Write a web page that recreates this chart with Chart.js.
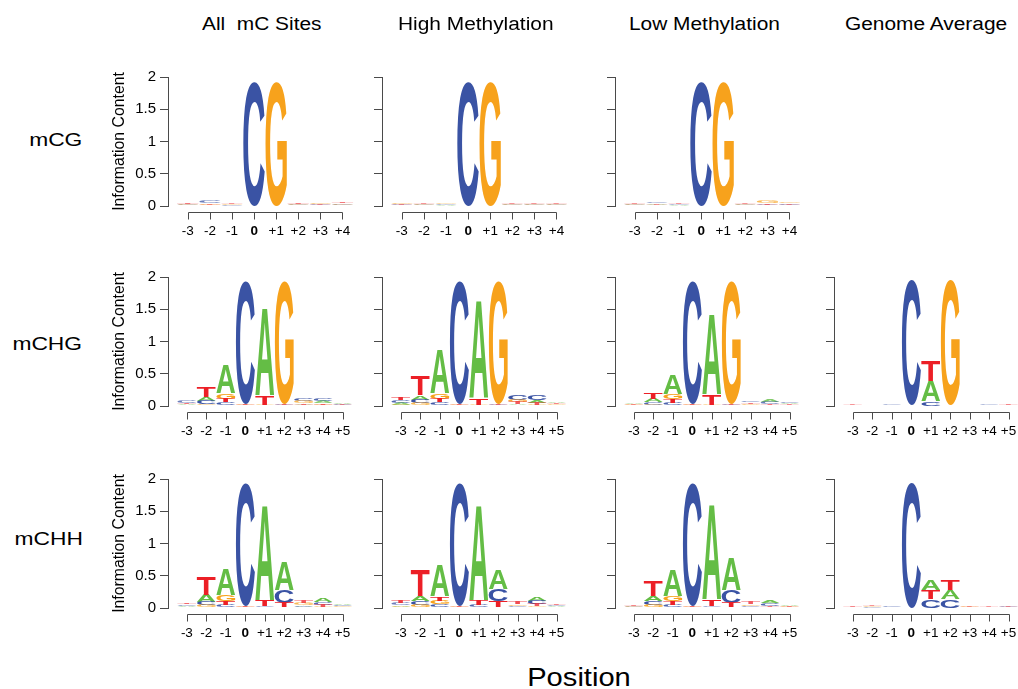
<!DOCTYPE html>
<html>
<head>
<meta charset="utf-8">
<script src="https://cdn.jsdelivr.net/npm/chart.js@4.4.0/dist/chart.umd.min.js"></script>
<style>
  html, body { margin: 0; padding: 0; background: #fff; }
  body { width: 1018px; height: 689px; position: relative; overflow: hidden;
         font-family: "Liberation Sans", Arial, Helvetica, sans-serif; color: #000; }
  canvas { position: absolute; }
  .lbl { position: absolute; white-space: pre; line-height: 1; }
</style>
</head>
<body>
<div id="wrap"></div>
<script>
// ---- positions and tick labels ----
const POS_CG = [-3, -2, -1, 0, 1, 2, 3, 4];
const POS_CH = [-3, -2, -1, 0, 1, 2, 3, 4, 5];
const TICKS_CG = ['-3', '-2', '-1', '0', '+1', '+2', '+3', '+4'];
const TICKS_CH = ['-3', '-2', '-1', '0', '+1', '+2', '+3', '+4', '+5'];
const Y_TICKS = ['0', '0.5', '1', '1.5', '2'];

const COLUMN_TITLES = ['All  mC Sites', 'High Methylation', 'Low Methylation', 'Genome Average'];
const ROW_TITLES = ['mCG', 'mCHG', 'mCHH'];
const Y_TITLE = 'Information Content';
const X_TITLE = 'Position';

// ---- information content (bits) per base and position ----
// mCG context
const mCG_all_A = [0.01, 0.01, 0.005, 0.003, 0.003, 0.01, 0.01, 0.01];
const mCG_all_C = [0.01, 0.03, 0.01, 1.92, 0.003, 0.01, 0.01, 0.02];
const mCG_all_G = [0.01, 0.02, 0.01, 0.003, 1.92, 0.01, 0.02, 0.01];
const mCG_all_T = [0.02, 0.01, 0.01, 0.003, 0.003, 0.02, 0.01, 0.02];

const mCG_high_A = [0.01, 0.01, 0.01, 0.003, 0.003, 0.01, 0.01, 0.01];
const mCG_high_C = [0.01, 0.01, 0.01, 1.92, 0.003, 0.01, 0.01, 0.01];
const mCG_high_G = [0.02, 0.01, 0.01, 0.003, 1.92, 0.01, 0.01, 0.01];
const mCG_high_T = [0.01, 0.01, 0.005, 0.003, 0.003, 0.01, 0.01, 0.01];

const mCG_low_A = [0.01, 0.02, 0.01, 0.003, 0.003, 0.01, 0.01, 0.01];
const mCG_low_C = [0.01, 0.02, 0.01, 1.92, 0.003, 0.01, 0.01, 0.02];
const mCG_low_G = [0.01, 0.01, 0.005, 0.003, 1.92, 0.01, 0.03, 0.02];
const mCG_low_T = [0.01, 0.01, 0.01, 0.003, 0.003, 0.01, 0.02, 0.01];

// mCHG context
const mCHG_all_A = [0.02, 0.065, 0.43, 0.01, 1.33, 0.01, 0.02, 0.03, 0.025];
const mCHG_all_C = [0.03, 0.05, 0.055, 1.90, 0.01, 0.01, 0.045, 0.04, 0.015];
const mCHG_all_G = [0.01, 0.03, 0.08, 0.01, 0.01, 1.89, 0.03, 0.02, 0.01];
const mCHG_all_T = [0.02, 0.16, 0.06, 0.02, 0.14, 0.02, 0.025, 0.025, 0.01];

const mCHG_high_A = [0.03, 0.065, 0.68, 0.01, 1.51, 0.01, 0.025, 0.045, 0.02];
const mCHG_high_C = [0.04, 0.06, 0.055, 1.90, 0.01, 0.01, 0.07, 0.07, 0.01];
const mCHG_high_G = [0.02, 0.04, 0.08, 0.01, 0.01, 1.90, 0.04, 0.02, 0.015];
const mCHG_high_T = [0.045, 0.30, 0.06, 0.02, 0.09, 0.02, 0.03, 0.03, 0.015];

const mCHG_low_A = [0.015, 0.05, 0.29, 0.01, 1.23, 0.01, 0.015, 0.035, 0.02];
const mCHG_low_C = [0.01, 0.04, 0.05, 1.90, 0.01, 0.01, 0.025, 0.03, 0.02];
const mCHG_low_G = [0.01, 0.02, 0.08, 0.01, 0.01, 1.90, 0.02, 0.015, 0.015];
const mCHG_low_T = [0.01, 0.09, 0.055, 0.02, 0.16, 0.02, 0.02, 0.02, 0.015];

const mCHG_gen_A = [0.005, 0.005, 0.005, 0.005, 0.31, 0.005, 0.005, 0.005, 0.005];
const mCHG_gen_C = [0.005, 0.005, 0.01, 1.93, 0.065, 0.005, 0.005, 0.01, 0.005];
const mCHG_gen_G = [0.005, 0.005, 0.005, 0.005, 0.005, 1.93, 0.005, 0.005, 0.005];
const mCHG_gen_T = [0.01, 0.005, 0.005, 0.005, 0.32, 0.005, 0.005, 0.005, 0.015];

// mCHH context
const mCHH_all_A = [0.02, 0.11, 0.40, 0.01, 1.45, 0.43, 0.02, 0.05, 0.025];
const mCHH_all_C = [0.02, 0.05, 0.05, 1.90, 0.02, 0.20, 0.02, 0.04, 0.02];
const mCHH_all_G = [0.015, 0.04, 0.09, 0.01, 0.01, 0.01, 0.03, 0.02, 0.015];
const mCHH_all_T = [0.025, 0.28, 0.065, 0.02, 0.09, 0.07, 0.03, 0.03, 0.01];

const mCHH_high_A = [0.025, 0.07, 0.47, 0.01, 1.47, 0.30, 0.015, 0.06, 0.015];
const mCHH_high_C = [0.03, 0.06, 0.055, 1.90, 0.04, 0.19, 0.02, 0.05, 0.015];
const mCHH_high_G = [0.02, 0.05, 0.06, 0.01, 0.01, 0.01, 0.025, 0.025, 0.01];
const mCHH_high_T = [0.04, 0.39, 0.065, 0.02, 0.07, 0.09, 0.035, 0.03, 0.015];

const mCHH_low_A = [0.01, 0.07, 0.39, 0.01, 1.46, 0.50, 0.015, 0.045, 0.02];
const mCHH_low_C = [0.01, 0.06, 0.05, 1.90, 0.02, 0.20, 0.02, 0.04, 0.01];
const mCHH_low_G = [0.01, 0.05, 0.07, 0.01, 0.01, 0.01, 0.025, 0.015, 0.01];
const mCHH_low_T = [0.015, 0.23, 0.06, 0.02, 0.10, 0.07, 0.03, 0.02, 0.015];

const mCHH_gen_A = [0.005, 0.005, 0.005, 0.003, 0.15, 0.145, 0.005, 0.005, 0.005];
const mCHH_gen_C = [0.005, 0.01, 0.02, 1.93, 0.13, 0.13, 0.005, 0.005, 0.01];
const mCHH_gen_G = [0.005, 0.01, 0.005, 0.003, 0.003, 0.005, 0.01, 0.005, 0.005];
const mCHH_gen_T = [0.015, 0.01, 0.005, 0.003, 0.14, 0.155, 0.01, 0.01, 0.01];

// ---- styling ----
const FONT = '"Liberation Sans", Arial, Helvetica, sans-serif';
const BASES = ['A', 'C', 'G', 'T'];
const BASE_COLORS = { A: '#64bd45', C: '#3a53a4', G: '#f7a21c', T: '#ec1f26' };
const AXIS_COLOR = '#4a4a4a';

const PAD = { top: 12, right: 14, bottom: 2, left: 4 };
const Y_AXIS_W = 58;     // width reserved for y labels and title
const X_AXIS_H = 40;     // height reserved for x labels
const PLOT_W = 186;
const PLOT_H = 130;
const ROW_TOP = [76, 276, 478];          // pixel row of the value 2
const COL_AXIS = [168, 382, 615, 834];   // pixel column of the y axis line
const X_RANGE = { CG: [-3.9, 4.5], CH: [-3.97, 5.5] };

Chart.defaults.font.family = FONT;

// Sort each column so the smallest letter sits at the bottom, and return
// floating [start, end] ranges for every base.
function stackColumns(cols) {
  const n = cols.A.length;
  const out = { A: [], C: [], G: [], T: [] };
  for (let i = 0; i < n; i++) {
    const order = BASES.map(b => [b, cols[b][i]]).sort((a, b) => a[1] - b[1]);
    let acc = 0;
    order.forEach(([b, v]) => { out[b][i] = [acc, acc + v]; acc += v; });
  }
  return out;
}

// Fill a rectangle with a stretched letter glyph.
function drawGlyph(ctx, ch, color, x, y, w, h) {
  ctx.save();
  ctx.font = 'bold 200px ' + FONT;
  ctx.textAlign = 'left';
  ctx.textBaseline = 'alphabetic';
  const m = ctx.measureText(ch);
  const gw = m.actualBoundingBoxLeft + m.actualBoundingBoxRight;
  const gh = m.actualBoundingBoxAscent + m.actualBoundingBoxDescent;
  // very flat glyphs render as faint smudges
  ctx.globalAlpha = Math.min(1, 0.35 + h / 5);
  ctx.translate(x, y);
  ctx.scale(w / gw, h / gh);
  ctx.fillStyle = color;
  ctx.fillText(ch, m.actualBoundingBoxLeft, m.actualBoundingBoxAscent);
  ctx.restore();
}

// Draws each bar element as its base letter.
const logoLetters = {
  id: 'logoLetters',
  afterDatasetsDraw(chart) {
    const ctx = chart.ctx;
    chart.data.datasets.forEach((ds, di) => {
      const meta = chart.getDatasetMeta(di);
      meta.data.forEach(el => {
        const p = el.getProps(['x', 'y', 'base', 'width'], true);
        const top = Math.min(p.y, p.base);
        const h = Math.abs(p.base - p.y);
        if (h < 0.15) return;
        drawGlyph(ctx, ds.letter, ds.glyphColor, p.x - p.width / 2, top, p.width, h);
      });
    });
  }
};

// R-style detached x axis: line from first to last position, ticks below.
const detachedXAxis = {
  id: 'detachedXAxis',
  afterDraw(chart, args, opts) {
    const xs = chart.scales.x, ys = chart.scales.y;
    const pos = opts.positions;
    const yLine = Math.round(ys.getPixelForValue(0)) + 6.5;
    const x0 = Math.round(xs.getPixelForValue(pos[0])) + 0.5;
    const x1 = Math.round(xs.getPixelForValue(pos[pos.length - 1])) + 0.5;
    const ctx = chart.ctx;
    ctx.save();
    ctx.strokeStyle = AXIS_COLOR;
    ctx.lineWidth = 1;
    ctx.beginPath();
    ctx.moveTo(x0, yLine);
    ctx.lineTo(x1, yLine);
    pos.forEach(v => {
      const xp = Math.round(xs.getPixelForValue(v)) + 0.5;
      ctx.moveTo(xp, yLine);
      ctx.lineTo(xp, yLine + 7);
    });
    ctx.stroke();
    ctx.restore();
  }
};

const PANELS = [
  { row: 0, col: 0, ctx: 'CG', A: mCG_all_A, C: mCG_all_C, G: mCG_all_G, T: mCG_all_T },
  { row: 0, col: 1, ctx: 'CG', A: mCG_high_A, C: mCG_high_C, G: mCG_high_G, T: mCG_high_T },
  { row: 0, col: 2, ctx: 'CG', A: mCG_low_A, C: mCG_low_C, G: mCG_low_G, T: mCG_low_T },
  { row: 1, col: 0, ctx: 'CH', A: mCHG_all_A, C: mCHG_all_C, G: mCHG_all_G, T: mCHG_all_T },
  { row: 1, col: 1, ctx: 'CH', A: mCHG_high_A, C: mCHG_high_C, G: mCHG_high_G, T: mCHG_high_T },
  { row: 1, col: 2, ctx: 'CH', A: mCHG_low_A, C: mCHG_low_C, G: mCHG_low_G, T: mCHG_low_T },
  { row: 1, col: 3, ctx: 'CH', A: mCHG_gen_A, C: mCHG_gen_C, G: mCHG_gen_G, T: mCHG_gen_T },
  { row: 2, col: 0, ctx: 'CH', A: mCHH_all_A, C: mCHH_all_C, G: mCHH_all_G, T: mCHH_all_T },
  { row: 2, col: 1, ctx: 'CH', A: mCHH_high_A, C: mCHH_high_C, G: mCHH_high_G, T: mCHH_high_T },
  { row: 2, col: 2, ctx: 'CH', A: mCHH_low_A, C: mCHH_low_C, G: mCHH_low_G, T: mCHH_low_T },
  { row: 2, col: 3, ctx: 'CH', A: mCHH_gen_A, C: mCHH_gen_C, G: mCHH_gen_G, T: mCHH_gen_T }
];

const wrap = document.getElementById('wrap');

PANELS.forEach(pn => {
  const positions = pn.ctx === 'CG' ? POS_CG : POS_CH;
  const tickLabels = pn.ctx === 'CG' ? TICKS_CG : TICKS_CH;
  const [xmin, xmax] = X_RANGE[pn.ctx];
  const showY = pn.col === 0;
  const stacks = stackColumns(pn);

  const canvas = document.createElement('canvas');
  const cw = PAD.left + Y_AXIS_W + PLOT_W + PAD.right;
  const ch = PAD.top + PLOT_H + X_AXIS_H + PAD.bottom;
  canvas.width = cw; canvas.height = ch;
  canvas.style.width = cw + 'px'; canvas.style.height = ch + 'px';
  canvas.style.left = (COL_AXIS[pn.col] - Y_AXIS_W - PAD.left) + 'px';
  canvas.style.top = (ROW_TOP[pn.row] - PAD.top) + 'px';
  wrap.appendChild(canvas);

  const datasets = BASES.map(b => ({
    label: b,
    letter: b,
    glyphColor: BASE_COLORS[b],
    data: positions.map((p, i) => ({ x: p, y: stacks[b][i] })),
    backgroundColor: 'rgba(0,0,0,0)',
    borderWidth: 0,
    grouped: false,
    barPercentage: 0.97,
    categoryPercentage: 1
  }));

  new Chart(canvas, {
    type: 'bar',
    data: { datasets },
    options: {
      responsive: false,
      animation: false,
      devicePixelRatio: 1,
      events: [],
      layout: { padding: PAD },
      plugins: {
        legend: { display: false },
        tooltip: { enabled: false },
        detachedXAxis: { positions }
      },
      scales: {
        x: {
          type: 'linear',
          min: xmin,
          max: xmax,
          offset: false,
          afterFit(s) { s.height = X_AXIS_H; },
          afterBuildTicks(s) { s.ticks = positions.map(v => ({ value: v })); },
          grid: { display: false, drawTicks: false, offset: false },
          border: { display: false },
          ticks: {
            autoSkip: false,
            maxRotation: 0,
            padding: 17,
            color: '#000',
            font: c => ({ family: FONT, size: 13.5, weight: (c.tick && c.tick.value === 0) ? 'bold' : 'normal' }),
            callback: v => tickLabels[positions.indexOf(v)]
          }
        },
        y: {
          min: 0,
          max: 2,
          afterFit(s) { s.width = Y_AXIS_W; },
          grid: { display: true, drawOnChartArea: false, drawTicks: true, tickLength: 8, color: AXIS_COLOR },
          border: { display: true, color: AXIS_COLOR, width: 1 },
          ticks: {
            stepSize: 0.5,
            padding: 4,
            color: showY ? '#000' : 'rgba(0,0,0,0)',
            font: { family: FONT, size: 15 },
            callback: (v, i) => Y_TICKS[i]
          },
          title: {
            display: showY,
            text: Y_TITLE,
            color: '#000',
            padding: 0,
            font: { family: FONT, size: 15.8 }
          }
        }
      }
    },
    plugins: [logoLetters, detachedXAxis]
  });
});

// ---- text labels ----
function addLabel(text, size, x, baseline, align, sx) {
  const d = document.createElement('div');
  d.className = 'lbl';
  d.textContent = text;
  d.style.fontSize = size + 'px';
  d.style.top = (baseline - 0.8465 * size) + 'px';
  if (align === 'left') {
    d.style.left = x + 'px';
    d.style.transformOrigin = 'left center';
    d.style.transform = 'scaleX(' + sx + ')';
  } else if (align === 'right') {
    d.style.right = (1018 - x) + 'px';
    d.style.transformOrigin = 'right center';
    d.style.transform = 'scaleX(' + sx + ')';
  } else {
    d.style.left = x + 'px';
    d.style.transform = 'translateX(-50%) scaleX(' + sx + ')';
  }
  document.body.appendChild(d);
}

const COL_TITLE_X = [201.7, 398, 629, 845];
COLUMN_TITLES.forEach((t, i) => addLabel(t, 18, COL_TITLE_X[i], 30, 'left', 1.16));

const ROW_TITLE_BASE = [146, 349.8, 544.8];
ROW_TITLES.forEach((t, i) => addLabel(t, 19, 82.5, ROW_TITLE_BASE[i], 'right', 1.2));

addLabel(X_TITLE, 26, 579, 686.3, 'center', 1.12);
</script>
</body>
</html>
